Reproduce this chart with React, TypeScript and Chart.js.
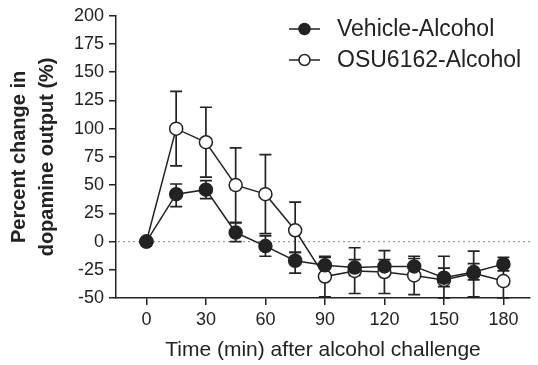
import React, { useEffect, useRef } from 'react';
import { Chart, registerables } from 'chart.js';
Chart.register(...registerables);

const FONT = '"Liberation Sans", Arial, Helvetica, sans-serif';
const INK = '#222222';

const times = [0, 15, 30, 45, 60, 75, 90, 105, 120, 135, 150, 165, 180];
const xTicks = [0, 30, 60, 90, 120, 150, 180];
const yTicks = [-50, -25, 0, 25, 50, 75, 100, 125, 150, 175, 200];

const seriesLabels = ['Vehicle-Alcohol', 'OSU6162-Alcohol'];

const vehicleMean = [0, 42, 46, 8, -4, -17, -21, -23, -22, -22, -32, -27, -20];
const vehicleUpper = [0, 51, 54, 16.5, 5, -9.5, -14, -16, -16, -15, -23.5, -19.5, -14];
const vehicleLower = [0, 31, 38, 0, -13, -28, -28, -30, -28, -29, -40, -34, -26];

const osuMean = [0, 100, 88, 50, 42, 10, -31, -26, -27, -30, -34, -28, -35];
const osuUpper = [0, 133, 119, 83, 77, 35, -13, -5.5, -8, -13, -13, -8.5, -20];
const osuLower = [0, 67, 57, 17, 7, -9.5, -49, -46, -46, -47, -50, -49, -50];

const zeroLinePlugin = {
  id: 'zeroLine',
  beforeDatasetsDraw(chart: any) {
    const { ctx, chartArea, scales } = chart;
    const y = scales.y.getPixelForValue(0);
    ctx.save();
    ctx.strokeStyle = '#9a9a9a';
    ctx.lineWidth = 1.2;
    ctx.setLineDash([2, 3]);
    ctx.beginPath();
    ctx.moveTo(chartArea.left + 2, y);
    ctx.lineTo(chartArea.right, y);
    ctx.stroke();
    ctx.restore();
  },
};

const errorBarPlugin = {
  id: 'errorBars',
  beforeDatasetsDraw(chart: any) {
    const { ctx, scales } = chart;
    const x = scales.x;
    const y = scales.y;
    ctx.save();
    ctx.strokeStyle = INK;
    ctx.lineWidth = 1.7;
    const sets = [
      [osuUpper, osuLower],
      [vehicleUpper, vehicleLower],
    ];
    sets.forEach(([up, lo]) => {
      times.forEach((t, i) => {
        if (up[i] === lo[i]) return;
        const px = x.getPixelForValue(t);
        const p1 = y.getPixelForValue(up[i]);
        const p2 = y.getPixelForValue(lo[i]);
        ctx.beginPath();
        ctx.moveTo(px, p1);
        ctx.lineTo(px, p2);
        ctx.moveTo(px - 6, p1);
        ctx.lineTo(px + 6, p1);
        ctx.moveTo(px - 6, p2);
        ctx.lineTo(px + 6, p2);
        ctx.stroke();
      });
    });
    ctx.restore();
  },
};

const legendPlugin = {
  id: 'customLegend',
  afterDraw(chart: any) {
    const { ctx } = chart;
    const rows = [
      { label: seriesLabels[0], filled: true, y: 29 },
      { label: seriesLabels[1], filled: false, y: 60 },
    ];
    ctx.save();
    rows.forEach((r) => {
      ctx.strokeStyle = INK;
      ctx.lineWidth = 1.5;
      ctx.beginPath();
      ctx.moveTo(289, r.y);
      ctx.lineTo(320, r.y);
      ctx.stroke();
      ctx.beginPath();
      ctx.arc(304.5, r.y, 5.5, 0, Math.PI * 2);
      ctx.fillStyle = r.filled ? INK : '#ffffff';
      ctx.fill();
      ctx.stroke();
      ctx.fillStyle = INK;
      ctx.font = `23px ${FONT}`;
      ctx.textBaseline = 'middle';
      ctx.textAlign = 'left';
      ctx.fillText(r.label, 337, r.y + 1);
    });
    ctx.restore();
  },
};

export default function App() {
  const ref = useRef<HTMLCanvasElement | null>(null);

  useEffect(() => {
    document.body.style.margin = '0';
    const canvas = ref.current;
    if (!canvas) return;
    const chart = new Chart(canvas, {
      type: 'line',
      data: {
        datasets: [
          {
            label: seriesLabels[0],
            data: times.map((t, i) => ({ x: t, y: vehicleMean[i] })),
            borderColor: INK,
            borderWidth: 1.5,
            backgroundColor: INK,
            pointBackgroundColor: INK,
            pointBorderColor: INK,
            pointBorderWidth: 1.5,
            pointRadius: 6.5,
            tension: 0,
          },
          {
            label: seriesLabels[1],
            data: times.map((t, i) => ({ x: t, y: osuMean[i] })),
            borderColor: INK,
            borderWidth: 1.5,
            backgroundColor: '#ffffff',
            pointBackgroundColor: '#ffffff',
            pointBorderColor: INK,
            pointBorderWidth: 1.5,
            pointRadius: 6.5,
            tension: 0,
          },
        ],
      },
      options: {
        responsive: false,
        animation: false,
        events: [],
        layout: { padding: { top: 15, right: 0, left: 0, bottom: 0 } },
        plugins: {
          legend: { display: false },
          tooltip: { enabled: false },
        },
        scales: {
          x: {
            type: 'linear',
            min: -15.33,
            max: 193.4,
            afterBuildTicks: (s: any) => {
              s.ticks = xTicks.map((v) => ({ value: v }));
            },
            afterFit: (s: any) => {
              s.height = 67;
            },
            grid: {
              display: true,
              drawOnChartArea: false,
              drawTicks: true,
              tickLength: 7,
              color: INK,
              lineWidth: 1.5,
            },
            border: { display: true, color: INK, width: 1.5 },
            ticks: {
              color: INK,
              font: { size: 18, family: FONT },
              padding: 4,
              maxRotation: 0,
              autoSkip: false,
            },
            title: {
              display: true,
              text: 'Time (min) after alcohol challenge',
              color: INK,
              font: { size: 21, family: FONT },
              padding: { top: 0, bottom: 2 },
            },
          },
          y: {
            type: 'linear',
            min: -50,
            max: 200,
            afterBuildTicks: (s: any) => {
              s.ticks = yTicks.map((v) => ({ value: v }));
            },
            afterFit: (s: any) => {
              s.width = 116;
            },
            grid: {
              display: true,
              drawOnChartArea: false,
              drawTicks: true,
              tickLength: 7,
              color: INK,
              lineWidth: 1.5,
            },
            border: { display: true, color: INK, width: 1.5 },
            ticks: {
              color: INK,
              font: { size: 18, family: FONT },
              padding: 5,
              autoSkip: false,
            },
            title: {
              display: true,
              text: ['Percent change in', 'dopamine output (%)'],
              color: INK,
              font: { size: 20, family: FONT, weight: 'bold', lineHeight: 1.4 },
              padding: { top: 5, bottom: 0 },
            },
          },
        },
      },
      plugins: [zeroLinePlugin, errorBarPlugin, legendPlugin],
    } as any);
    return () => chart.destroy();
  }, []);

  return (
    <div style={{ width: 538, height: 365 }}>
      <canvas ref={ref} width={538} height={365} style={{ display: 'block' }} />
    </div>
  );
}
